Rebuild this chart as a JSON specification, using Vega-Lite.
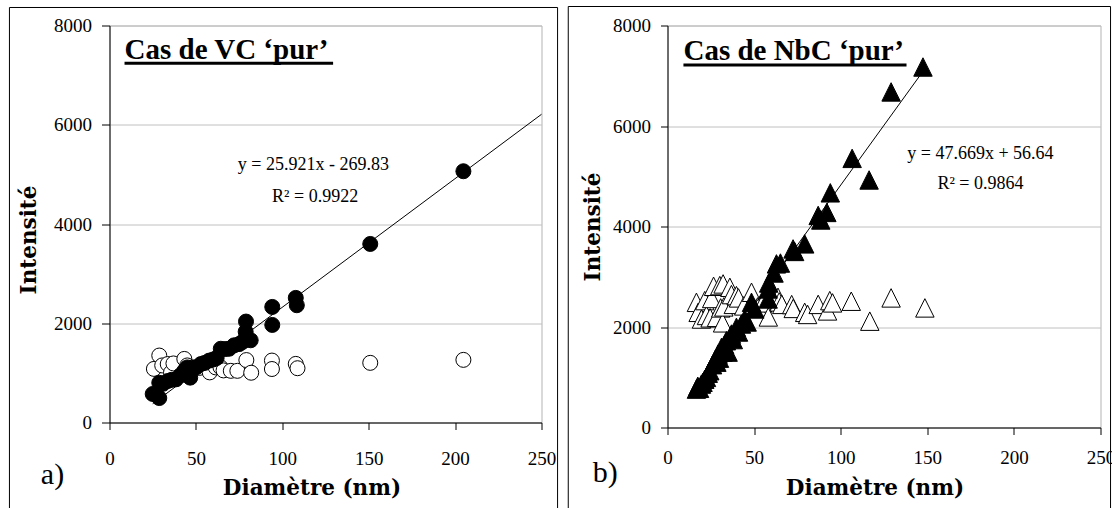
{
  "$schema": "https://vega.github.io/schema/vega-lite/v6.json",
  "padding": {"left": 7.5, "top": 5.5, "right": 0, "bottom": 0},
  "spacing": 126,
  "bounds": "flush",
  "background": "white",
  "config": {
    "view": {"stroke": "#b3b3b3", "strokeWidth": 1},
    "font": "Liberation Serif"
  },
  "datasets": {
    "vc": [
      {"d": 25.7, "i": 1080, "s": "ouvert"}, {"d": 28.8, "i": 1349, "s": "ouvert"}, {"d": 30.5, "i": 1150, "s": "ouvert"},
      {"d": 33.7, "i": 1178, "s": "ouvert"}, {"d": 35.6, "i": 1007, "s": "ouvert"}, {"d": 37, "i": 1190, "s": "ouvert"},
      {"d": 43.3, "i": 1281, "s": "ouvert"}, {"d": 45, "i": 1150, "s": "ouvert"}, {"d": 52, "i": 1100, "s": "ouvert"},
      {"d": 58, "i": 1010, "s": "ouvert"}, {"d": 61.5, "i": 1110, "s": "ouvert"}, {"d": 64.2, "i": 1114, "s": "ouvert"},
      {"d": 66, "i": 1050, "s": "ouvert"}, {"d": 70.2, "i": 1041, "s": "ouvert"}, {"d": 74, "i": 1041, "s": "ouvert"},
      {"d": 79.2, "i": 1258, "s": "ouvert"}, {"d": 82, "i": 1003, "s": "ouvert"}, {"d": 94, "i": 1248, "s": "ouvert"},
      {"d": 94, "i": 1078, "s": "ouvert"}, {"d": 107.8, "i": 1181, "s": "ouvert"}, {"d": 108.8, "i": 1094, "s": "ouvert"},
      {"d": 150.9, "i": 1202, "s": "ouvert"}, {"d": 204.8, "i": 1262, "s": "ouvert"},
      {"d": 25, "i": 575, "s": "plein"}, {"d": 27, "i": 560, "s": "plein"}, {"d": 28.8, "i": 493, "s": "plein"},
      {"d": 28.8, "i": 801, "s": "plein"}, {"d": 31, "i": 780, "s": "plein"}, {"d": 33.7, "i": 836, "s": "plein"},
      {"d": 36, "i": 860, "s": "plein"}, {"d": 38.5, "i": 870, "s": "plein"}, {"d": 41, "i": 950, "s": "plein"},
      {"d": 43.3, "i": 1041, "s": "plein"}, {"d": 45, "i": 1110, "s": "plein"}, {"d": 46.7, "i": 904, "s": "plein"},
      {"d": 48.1, "i": 1110, "s": "plein"}, {"d": 50.3, "i": 1114, "s": "plein"}, {"d": 52.9, "i": 1178, "s": "plein"},
      {"d": 55, "i": 1200, "s": "plein"}, {"d": 57.7, "i": 1247, "s": "plein"}, {"d": 60, "i": 1270, "s": "plein"},
      {"d": 62, "i": 1300, "s": "plein"}, {"d": 64.4, "i": 1486, "s": "plein"}, {"d": 67, "i": 1480, "s": "plein"},
      {"d": 69.2, "i": 1486, "s": "plein"}, {"d": 72.1, "i": 1555, "s": "plein"}, {"d": 75, "i": 1580, "s": "plein"},
      {"d": 76.9, "i": 1623, "s": "plein"}, {"d": 78.8, "i": 1829, "s": "plein"}, {"d": 79, "i": 2034, "s": "plein"},
      {"d": 81.7, "i": 1657, "s": "plein"}, {"d": 94.2, "i": 2329, "s": "plein"}, {"d": 94.2, "i": 1966, "s": "plein"},
      {"d": 107.8, "i": 2511, "s": "plein"}, {"d": 108.4, "i": 2363, "s": "plein"}, {"d": 150.9, "i": 3598, "s": "plein"},
      {"d": 204.8, "i": 5063, "s": "plein"}
    ],
    "vcfit": [{"d": 25, "i": 378.2}, {"d": 250, "i": 6210.4}],
    "nbc": [
      {"d": 16.7, "i": 2491, "s": "ouvert"}, {"d": 17.7, "i": 2292, "s": "ouvert"}, {"d": 19.6, "i": 2159, "s": "ouvert"},
      {"d": 21.5, "i": 2525, "s": "ouvert"}, {"d": 22.5, "i": 2230, "s": "ouvert"}, {"d": 24.6, "i": 2182, "s": "ouvert"},
      {"d": 25.5, "i": 2568, "s": "ouvert"}, {"d": 26.6, "i": 2810, "s": "ouvert"}, {"d": 28.3, "i": 2192, "s": "ouvert"},
      {"d": 30.2, "i": 2824, "s": "ouvert"}, {"d": 30.7, "i": 2380, "s": "ouvert"}, {"d": 31.8, "i": 2083, "s": "ouvert"},
      {"d": 32.1, "i": 2857, "s": "ouvert"}, {"d": 32.5, "i": 2400, "s": "ouvert"}, {"d": 36, "i": 2790, "s": "ouvert"},
      {"d": 36.9, "i": 2645, "s": "ouvert"}, {"d": 38, "i": 2450, "s": "ouvert"}, {"d": 39.8, "i": 2624, "s": "ouvert"},
      {"d": 41, "i": 2579, "s": "ouvert"}, {"d": 44, "i": 2420, "s": "ouvert"}, {"d": 48.5, "i": 2691, "s": "ouvert"},
      {"d": 52, "i": 2400, "s": "ouvert"}, {"d": 55, "i": 2480, "s": "ouvert"}, {"d": 58.2, "i": 2200, "s": "ouvert"},
      {"d": 63.8, "i": 2591, "s": "ouvert"}, {"d": 64.5, "i": 2500, "s": "ouvert"}, {"d": 66, "i": 2450, "s": "ouvert"},
      {"d": 71.7, "i": 2446, "s": "ouvert"}, {"d": 72.6, "i": 2370, "s": "ouvert"}, {"d": 79.2, "i": 2292, "s": "ouvert"},
      {"d": 80.9, "i": 2250, "s": "ouvert"}, {"d": 87, "i": 2450, "s": "ouvert"}, {"d": 92.4, "i": 2320, "s": "ouvert"},
      {"d": 93.7, "i": 2525, "s": "ouvert"}, {"d": 95.3, "i": 2480, "s": "ouvert"}, {"d": 106.1, "i": 2513, "s": "ouvert"},
      {"d": 116.8, "i": 2116, "s": "ouvert"}, {"d": 129.1, "i": 2579, "s": "ouvert"}, {"d": 148.6, "i": 2380, "s": "ouvert"},
      {"d": 16.7, "i": 764, "s": "plein"}, {"d": 17.5, "i": 820, "s": "plein"}, {"d": 18.5, "i": 780, "s": "plein"},
      {"d": 19.6, "i": 864, "s": "plein"}, {"d": 20.5, "i": 900, "s": "plein"}, {"d": 21.5, "i": 960, "s": "plein"},
      {"d": 22.5, "i": 997, "s": "plein"}, {"d": 23.5, "i": 1080, "s": "plein"}, {"d": 24.4, "i": 1130, "s": "plein"},
      {"d": 26, "i": 1250, "s": "plein"}, {"d": 27.5, "i": 1350, "s": "plein"}, {"d": 28.5, "i": 1300, "s": "plein"},
      {"d": 29.2, "i": 1462, "s": "plein"}, {"d": 30, "i": 1380, "s": "plein"}, {"d": 31.2, "i": 1595, "s": "plein"},
      {"d": 32, "i": 1500, "s": "plein"}, {"d": 33, "i": 1650, "s": "plein"}, {"d": 34, "i": 1727, "s": "plein"},
      {"d": 35, "i": 1500, "s": "plein"}, {"d": 36.9, "i": 1860, "s": "plein"}, {"d": 38, "i": 1750, "s": "plein"},
      {"d": 39.8, "i": 1993, "s": "plein"}, {"d": 41, "i": 1900, "s": "plein"}, {"d": 42.7, "i": 2060, "s": "plein"},
      {"d": 44.6, "i": 2159, "s": "plein"}, {"d": 46, "i": 2100, "s": "plein"}, {"d": 48.5, "i": 2491, "s": "plein"},
      {"d": 50.4, "i": 2359, "s": "plein"}, {"d": 58.1, "i": 2757, "s": "plein"}, {"d": 58.1, "i": 2558, "s": "plein"},
      {"d": 58.4, "i": 2876, "s": "plein"}, {"d": 61.5, "i": 3075, "s": "plein"}, {"d": 62.9, "i": 3256, "s": "plein"},
      {"d": 65.2, "i": 3273, "s": "plein"}, {"d": 72.5, "i": 3554, "s": "plein"}, {"d": 73.4, "i": 3504, "s": "plein"},
      {"d": 79.2, "i": 3654, "s": "plein"}, {"d": 87, "i": 4220, "s": "plein"}, {"d": 88.5, "i": 4130, "s": "plein"},
      {"d": 92, "i": 4280, "s": "plein"}, {"d": 94, "i": 4670, "s": "plein"}, {"d": 106.6, "i": 5356, "s": "plein"},
      {"d": 116.4, "i": 4926, "s": "plein"}, {"d": 129.1, "i": 6678, "s": "plein"}, {"d": 147.5, "i": 7174, "s": "plein"}
    ],
    "nbcfit": [{"d": 16, "i": 819.3}, {"d": 148, "i": 7111.6}]
  },
  "hconcat": [
    {
      "width": 432,
      "height": 397,
      "layer": [
        {
          "data": {"name": "vc"},
          "transform": [{"filter": "datum.s === 'ouvert'"}],
          "mark": {"type": "point", "shape": "circle", "filled": true, "fill": "white", "stroke": "black", "strokeWidth": 1, "size": 225, "opacity": 1},
          "encoding": {
            "x": {"field": "d", "type": "quantitative", "scale": {"domain": [0, 250], "nice": false},
              "axis": {"title": "Diamètre (nm)", "values": [0, 50, 100, 150, 200, 250], "grid": false, "domainColor": "black", "tickColor": "black", "tickSize": 7,
                "labelFont": "Liberation Serif", "labelFontSize": 19, "labelColor": "black", "labelPadding": 20, "labelFlush": false, "labelOverlap": false,
                "titleFont": "DejaVu Serif", "titleFontSize": 21.5, "titleFontWeight": "bold", "titleColor": "black", "titleX": 202, "titleY": 66, "titleBaseline": "middle", "titleAlign": "center"}},
            "y": {"field": "i", "type": "quantitative", "scale": {"domain": [0, 8000], "nice": false},
              "axis": {"title": "Intensité", "values": [0, 2000, 4000, 6000, 8000], "format": "d", "grid": true, "gridColor": "#c0c0c0", "domainColor": "black", "tickColor": "black", "tickSize": 8,
                "labelFont": "Liberation Serif", "labelFontSize": 19, "labelColor": "black", "labelPadding": 10,
                "titleFont": "DejaVu Serif", "titleFontSize": 21.5, "titleFontWeight": "bold", "titleColor": "black", "titleAngle": 270, "titleX": -80, "titleY": 214, "titleBaseline": "middle", "titleAlign": "center"}}
          }
        },
        {
          "data": {"name": "vc"},
          "transform": [{"filter": "datum.s === 'plein'"}],
          "mark": {"type": "point", "shape": "circle", "filled": true, "fill": "black", "stroke": "black", "strokeWidth": 1, "size": 225, "opacity": 1},
          "encoding": {
            "x": {"field": "d", "type": "quantitative"},
            "y": {"field": "i", "type": "quantitative"}
          }
        },
        {
          "data": {"name": "vcfit"},
          "mark": {"type": "line", "color": "black", "strokeWidth": 1},
          "encoding": {
            "x": {"field": "d", "type": "quantitative"},
            "y": {"field": "i", "type": "quantitative"}
          }
        },
        {
          "data": {"values": [{}]},
          "mark": {"type": "rect", "fill": null, "fillOpacity": 0, "stroke": "black", "strokeWidth": 1},
          "encoding": {
            "x": {"datum": -57.9, "type": "quantitative"}, "x2": {"datum": 259.3},
            "y": {"datum": 8363, "type": "quantitative"}, "y2": {"datum": -1800}
          }
        },
        {
          "data": {"values": [{}]},
          "mark": {"type": "text", "text": "Cas de VC ‘pur’", "font": "Liberation Serif", "fontSize": 29, "fontWeight": "bold", "align": "left", "baseline": "alphabetic", "color": "black"},
          "encoding": {"x": {"datum": 8.7, "type": "quantitative"}, "y": {"datum": 7333, "type": "quantitative"}}
        },
        {
          "data": {"values": [{}]},
          "mark": {"type": "rule", "color": "black", "strokeWidth": 3},
          "encoding": {"x": {"datum": 8.7, "type": "quantitative"}, "x2": {"datum": 129.4}, "y": {"datum": 7240, "type": "quantitative"}}
        },
        {
          "data": {"values": [{}]},
          "mark": {"type": "text", "text": "y = 25.921x - 269.83", "font": "Liberation Serif", "fontSize": 18, "align": "center", "baseline": "middle", "color": "black"},
          "encoding": {"x": {"datum": 118, "type": "quantitative"}, "y": {"datum": 5192, "type": "quantitative"}}
        },
        {
          "data": {"values": [{}]},
          "mark": {"type": "text", "text": "R² = 0.9922", "font": "Liberation Serif", "fontSize": 18, "align": "center", "baseline": "middle", "color": "black"},
          "encoding": {"x": {"datum": 119, "type": "quantitative"}, "y": {"datum": 4545, "type": "quantitative"}}
        },
        {
          "data": {"values": [{}]},
          "mark": {"type": "text", "text": "a)", "font": "Liberation Serif", "fontSize": 30, "align": "center", "baseline": "middle", "color": "black"},
          "encoding": {"x": {"datum": -33, "type": "quantitative"}, "y": {"datum": -1050, "type": "quantitative"}}
        }
      ]
    },
    {
      "width": 433,
      "height": 402,
      "layer": [
        {
          "data": {"name": "nbc"},
          "transform": [{"filter": "datum.s === 'ouvert'"}],
          "mark": {"type": "point", "shape": "M0,-1L1,1L-1,1Z", "filled": true, "fill": "white", "stroke": "black", "strokeWidth": 1, "size": 340, "opacity": 1},
          "encoding": {
            "x": {"field": "d", "type": "quantitative", "scale": {"domain": [0, 250], "nice": false},
              "axis": {"title": "Diamètre (nm)", "values": [0, 50, 100, 150, 200, 250], "grid": false, "domainColor": "black", "tickColor": "black", "tickSize": 7,
                "labelFont": "Liberation Serif", "labelFontSize": 19, "labelColor": "black", "labelPadding": 14, "labelFlush": false, "labelOverlap": false,
                "titleFont": "DejaVu Serif", "titleFontSize": 21.5, "titleFontWeight": "bold", "titleColor": "black", "titleX": 207, "titleY": 61, "titleBaseline": "middle", "titleAlign": "center"}},
            "y": {"field": "i", "type": "quantitative", "scale": {"domain": [0, 8000], "nice": false},
              "axis": {"title": "Intensité", "values": [0, 2000, 4000, 6000, 8000], "format": "d", "grid": true, "gridColor": "#c0c0c0", "domainColor": "black", "tickColor": "black", "tickSize": 7,
                "labelFont": "Liberation Serif", "labelFontSize": 19, "labelColor": "black", "labelPadding": 10,
                "titleFont": "DejaVu Serif", "titleFontSize": 21.5, "titleFontWeight": "bold", "titleColor": "black", "titleAngle": 270, "titleX": -74, "titleY": 201, "titleBaseline": "middle", "titleAlign": "center"}}
          }
        },
        {
          "data": {"name": "nbc"},
          "transform": [{"filter": "datum.s === 'plein'"}],
          "mark": {"type": "point", "shape": "M0,-1L1,1L-1,1Z", "filled": true, "fill": "black", "stroke": "black", "strokeWidth": 1, "size": 340, "opacity": 1},
          "encoding": {
            "x": {"field": "d", "type": "quantitative"},
            "y": {"field": "i", "type": "quantitative"}
          }
        },
        {
          "data": {"name": "nbcfit"},
          "mark": {"type": "line", "color": "black", "strokeWidth": 1},
          "encoding": {
            "x": {"field": "d", "type": "quantitative"},
            "y": {"field": "i", "type": "quantitative"}
          }
        },
        {
          "data": {"values": [{}]},
          "mark": {"type": "rect", "fill": null, "fillOpacity": 0, "stroke": "black", "strokeWidth": 1},
          "encoding": {
            "x": {"datum": -57.3, "type": "quantitative"}, "x2": {"datum": 255.8},
            "y": {"datum": 8378, "type": "quantitative"}, "y2": {"datum": -1700}
          }
        },
        {
          "data": {"values": [{}]},
          "mark": {"type": "text", "text": "Cas de NbC ‘pur’", "font": "Liberation Serif", "fontSize": 29, "fontWeight": "bold", "align": "left", "baseline": "alphabetic", "color": "black"},
          "encoding": {"x": {"datum": 9.2, "type": "quantitative"}, "y": {"datum": 7306, "type": "quantitative"}}
        },
        {
          "data": {"values": [{}]},
          "mark": {"type": "rule", "color": "black", "strokeWidth": 3},
          "encoding": {"x": {"datum": 9.2, "type": "quantitative"}, "x2": {"datum": 138}, "y": {"datum": 7215, "type": "quantitative"}}
        },
        {
          "data": {"values": [{}]},
          "mark": {"type": "text", "text": "y = 47.669x + 56.64", "font": "Liberation Serif", "fontSize": 18, "align": "center", "baseline": "middle", "color": "black"},
          "encoding": {"x": {"datum": 180.7, "type": "quantitative"}, "y": {"datum": 5445, "type": "quantitative"}}
        },
        {
          "data": {"values": [{}]},
          "mark": {"type": "text", "text": "R² = 0.9864", "font": "Liberation Serif", "fontSize": 18, "align": "center", "baseline": "middle", "color": "black"},
          "encoding": {"x": {"datum": 180.7, "type": "quantitative"}, "y": {"datum": 4851, "type": "quantitative"}}
        },
        {
          "data": {"values": [{}]},
          "mark": {"type": "text", "text": "b)", "font": "Liberation Serif", "fontSize": 30, "align": "center", "baseline": "middle", "color": "black"},
          "encoding": {"x": {"datum": -36, "type": "quantitative"}, "y": {"datum": -900, "type": "quantitative"}}
        }
      ]
    }
  ]
}
